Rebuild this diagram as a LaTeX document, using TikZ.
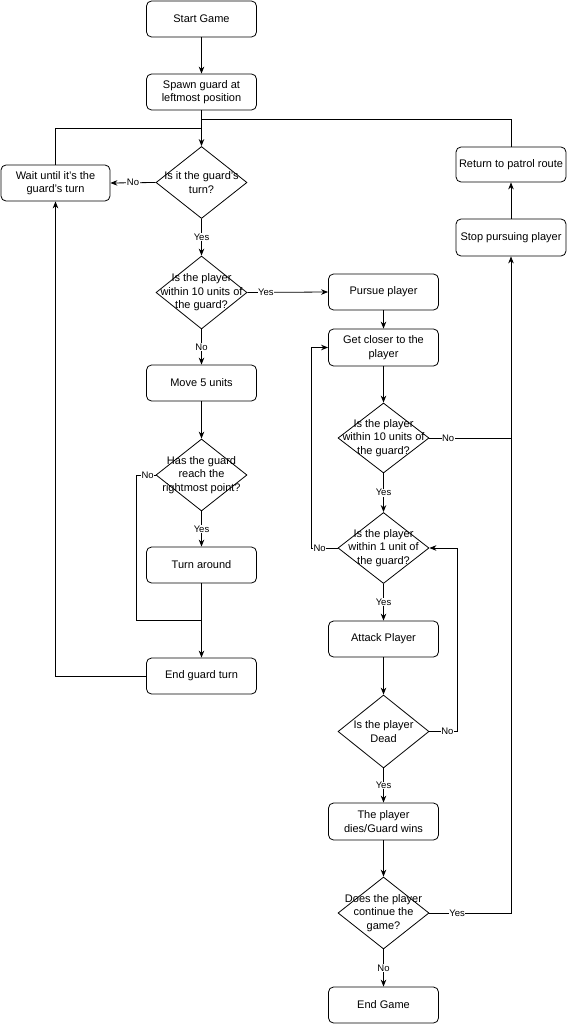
\documentclass[tikz,border=0pt]{standalone}
\usepackage{fontspec}
\setmainfont{Liberation Sans}
\usetikzlibrary{shapes.geometric,arrows.meta}
\newcommand{\ap}{\symbol{39}}
\begin{document}
\begin{tikzpicture}[x=1pt,y=-1pt,
  every node/.style={font=\fontsize{11}{13.5}\selectfont},
  box/.style={draw,rounded corners=5pt,minimum width=110pt,minimum height=36pt,align=center,inner sep=1pt,line width=0.8pt},
  dec/.style={draw,diamond,minimum width=91pt,minimum height=72pt,inner sep=0pt,line width=0.8pt},
  dtext/.style={align=center,inner sep=0pt},
  lbl/.style={fill=white,inner sep=0.5pt,font=\fontsize{9.5}{11}\selectfont},
  conn/.style={line width=0.8pt},
  arr/.style={conn,-{Stealth[length=7pt,width=5.5pt]}}]
\useasboundingbox (0,0) rectangle (567,1024);
% left column
\node[box] (start) at (201.5,19) {Start Game};
\node[box] (spawn) at (201.5,92) {Spawn guard at\\leftmost position};
\node[box,minimum width=109pt] (wait) at (55.5,183) {Wait until it\ap s the\\guard\ap s turn};
\node[dec] (d1) at (201.5,182.5) {};
\node[dtext] at (d1) {Is it the guard\ap s\\turn?};
\node[dec,minimum height=73pt] (d2) at (201.5,292.5) {};
\node[dtext] at (d2) {Is the player\\within 10 units of\\the guard?};
\node[box] (move) at (201.5,383) {Move 5 units};
\node[dec] (d3) at (201.5,475) {};
\node[dtext] at (d3) {Has the guard\\reach the\\rightmost point?};
\node[box] (turn) at (201.5,565) {Turn around};
\node[box] (egt) at (201.5,676) {End guard turn};
% right column
\node[box] (pursue) at (383.5,292) {Pursue player};
\node[box,minimum height=37pt] (gc) at (383.5,347.5) {Get closer to the\\player};
\node[dec,minimum height=70pt] (d4) at (383.5,438) {};
\node[dtext] at (d4) {Is the player\\within 10 units of\\the guard?};
\node[dec,minimum height=71pt] (d5) at (383.5,548) {};
\node[dtext] at (d5) {Is the player\\within 1 unit of\\the guard?};
\node[box] (attack) at (383.5,639) {Attack Player};
\node[dec,minimum height=73pt] (d6) at (383.5,731.5) {};
\node[dtext] at (d6) {Is the player\\Dead};
\node[box,minimum height=37pt] (dies) at (383.5,821.5) {The player\\dies/Guard wins};
\node[dec] (d7) at (383.5,913) {};
\node[dtext] at (d7) {Does the player\\continue the\\game?};
\node[box] (endg) at (383.5,1005) {End Game};
\node[box,minimum height=37pt] (stop) at (511,237.5) {Stop pursuing player};
\node[box,minimum height=35pt] (ret) at (511,164.5) {Return to patrol route};
% junctions
\coordinate (j1) at (201.5,128);
\coordinate (j2) at (201.5,119);
\coordinate (j3) at (201.5,620);
\coordinate (j4) at (511,438);
% connectors
\draw[arr] (start) -- (spawn);
\draw[arr] (spawn) -- (d1);
\draw[conn] (wait.north) |- (j1);
\draw[conn] (ret.north) |- (j2);
\draw[arr] (d1.west) -- node[lbl]{No} (wait.east);
\draw[arr] (d1.south) -- node[lbl]{Yes} (d2.north);
\draw[arr] (d2.east) -- node[lbl,pos=0.23]{Yes} (pursue.west);
\draw[arr] (d2.south) -- node[lbl]{No} (move.north);
\draw[arr] (move) -- (d3);
\draw[arr] (d3.south) -- node[lbl]{Yes} (turn.north);
\draw[conn] (d3.west) -- node[lbl,pos=0.42]{No} ++(-19,0) |- (j3);
\draw[arr] (turn.south) -- (egt.north);
\draw[arr] (egt.west) -| (wait.south);
\draw[arr] (pursue) -- (gc);
\draw[arr] (gc) -- (d4);
\draw[arr] (d4.south) -- node[lbl]{Yes} (d5.north);
\draw[conn] (d4.east) -- node[lbl,pos=0.23]{No} (j4);
\draw[arr] (d7.east) -| node[lbl,pos=0.17]{Yes} (stop.south);
\draw[arr] (d5.west) -- node[lbl,pos=0.69]{No} ++(-26,0) |- (gc.west);
\draw[arr] (d5.south) -- node[lbl]{Yes} (attack.north);
\draw[arr] (attack) -- (d6);
\draw[arr] (d6.east) -- node[lbl,pos=0.64]{No} ++(28,0) |- (d5.east);
\draw[arr] (d6.south) -- node[lbl]{Yes} (dies.north);
\draw[arr] (dies) -- (d7);
\draw[arr] (d7.south) -- node[lbl]{No} (endg.north);
\draw[arr] (stop) -- (ret);
\end{tikzpicture}
\end{document}
